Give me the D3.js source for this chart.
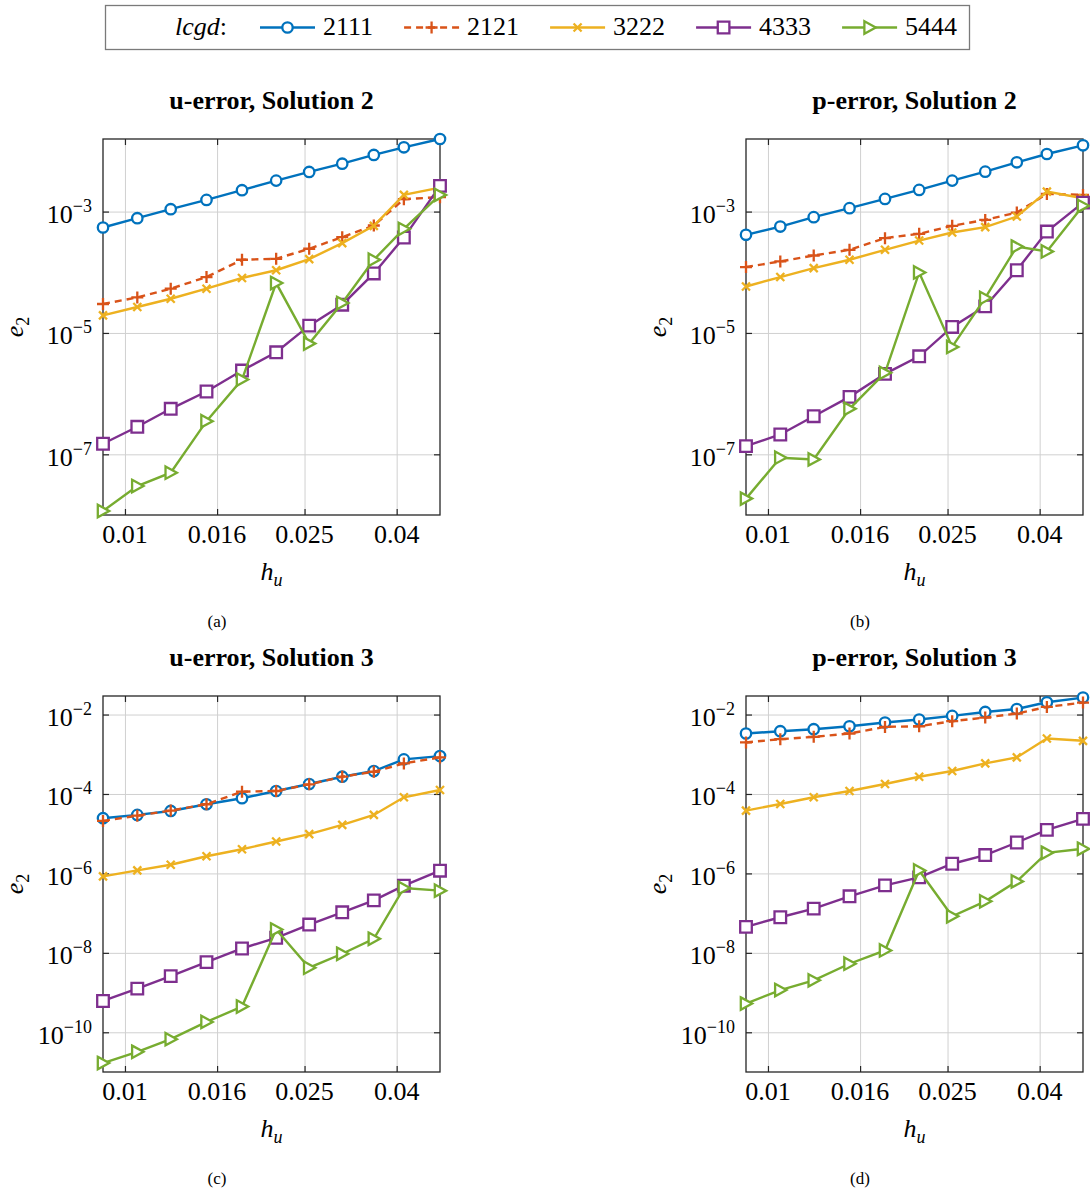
<!DOCTYPE html>
<html>
<head>
<meta charset="utf-8">
<script src="https://cdn.jsdelivr.net/npm/d3@7"></script>
<style>
  body { margin: 0; background: #fff; }
  text { font-family: "Liberation Serif", "DejaVu Serif", serif; }
</style>
</head>
<body>
<svg id="fig" width="1090" height="1191" font-family="Liberation Serif, DejaVu Serif, serif"></svg>
<script>
// mesh sizes (same for every panel)
const hu = [0.00894, 0.01065, 0.01263, 0.01516, 0.01817, 0.02163, 0.0256, 0.0303, 0.0356, 0.0415, 0.0499];
const lcgd = ['2111', '2121', '3222', '4333', '5444'];
const xTicks = [0.01, 0.016, 0.025, 0.04];

// e2 values, one row per lcgd entry
const uErrSol2 = [
  [5.46e-4, 7.78e-4, 1.094e-3, 1.556e-3, 2.249e-3, 3.236e-3, 4.50e-3, 6.15e-3, 8.57e-3, 1.146e-2, 1.57e-2],
  [3.00e-5, 3.85e-5, 5.36e-5, 8.34e-5, 1.607e-4, 1.667e-4, 2.44e-4, 3.79e-4, 5.89e-4, 1.60e-3, 1.73e-3],
  [1.945e-5, 2.68e-5, 3.66e-5, 5.36e-5, 8.04e-5, 1.079e-4, 1.648e-4, 3.02e-4, 5.82e-4, 1.884e-3, 2.48e-3],
  [1.493e-7, 2.84e-7, 5.62e-7, 1.084e-6, 2.40e-6, 4.80e-6, 1.318e-5, 2.92e-5, 9.55e-5, 3.73e-4, 2.65e-3],
  [1.164e-8, 3.00e-8, 4.98e-8, 3.52e-7, 1.706e-6, 6.64e-5, 6.67e-6, 3.11e-5, 1.607e-4, 5.19e-4, 1.884e-3]
];
const pErrSol2 = [
  [4.14e-4, 5.66e-4, 8.09e-4, 1.138e-3, 1.618e-3, 2.275e-3, 3.236e-3, 4.55e-3, 6.49e-3, 8.89e-3, 1.236e-2],
  [1.219e-4, 1.507e-4, 1.888e-4, 2.344e-4, 3.65e-4, 4.30e-4, 5.82e-4, 7.29e-4, 9.64e-4, 1.954e-3, 1.884e-3],
  [5.83e-5, 8.34e-5, 1.172e-4, 1.607e-4, 2.344e-4, 3.33e-4, 4.52e-4, 5.53e-4, 8.28e-4, 2.133e-3, 1.66e-3],
  [1.365e-7, 2.12e-7, 4.25e-7, 8.85e-7, 2.12e-6, 4.12e-6, 1.256e-5, 2.74e-5, 1.079e-4, 4.69e-4, 1.406e-3],
  [1.862e-8, 8.79e-8, 8.24e-8, 5.62e-7, 2.20e-6, 9.93e-5, 5.89e-6, 3.77e-5, 2.65e-4, 2.20e-4, 1.242e-3]
];
const uErrSol3 = [
  [2.455e-5, 2.97e-5, 3.74e-5, 5.52e-5, 7.80e-5, 1.189e-4, 1.782e-4, 2.72e-4, 3.78e-4, 7.43e-4, 8.99e-4],
  [2.10e-5, 2.85e-5, 3.81e-5, 5.52e-5, 1.143e-4, 1.189e-4, 1.75e-4, 2.72e-4, 3.63e-4, 5.89e-4, 8.34e-4],
  [8.41e-7, 1.189e-6, 1.652e-6, 2.70e-6, 4.05e-6, 6.35e-6, 9.75e-6, 1.667e-5, 2.97e-5, 8.26e-5, 1.259e-4],
  [6.14e-10, 1.256e-9, 2.60e-9, 5.85e-9, 1.288e-8, 2.39e-8, 5.16e-8, 1.05e-7, 2.10e-7, 4.91e-7, 1.17e-6],
  [1.679e-11, 3.22e-11, 6.71e-11, 1.824e-10, 4.45e-10, 3.86e-8, 4.23e-9, 9.48e-9, 2.26e-8, 4.31e-7, 3.68e-7]
];
const pErrSol3 = [
  [3.33e-3, 3.81e-3, 4.28e-3, 5.08e-3, 6.30e-3, 7.50e-3, 9.23e-3, 1.161e-2, 1.38e-2, 2.04e-2, 2.67e-2],
  [1.982e-3, 2.40e-3, 2.74e-3, 3.33e-3, 4.89e-3, 5.08e-3, 6.79e-3, 8.41e-3, 1.059e-2, 1.552e-2, 2.00e-2],
  [3.81e-5, 5.61e-5, 8.26e-5, 1.189e-4, 1.782e-4, 2.72e-4, 3.78e-4, 5.89e-4, 8.34e-4, 2.50e-3, 2.18e-3],
  [4.52e-8, 7.87e-8, 1.30e-7, 2.65e-7, 5.00e-7, 7.93e-7, 1.75e-6, 2.90e-6, 6.00e-6, 1.25e-5, 2.36e-5],
  [5.28e-10, 1.159e-9, 2.03e-9, 5.32e-9, 1.148e-8, 1.189e-6, 8.34e-8, 1.98e-7, 6.30e-7, 3.30e-6, 4.17e-6]
];

// styles
const colors = ['#0072BD', '#D95319', '#EDB120', '#7E2F8E', '#77AC30'];
const markers = ['circle', 'plus', 'times', 'square', 'triRight'];
const dashes = [null, '7,5', null, null, null];

const W = 337, H = 376;
const panels = [
  { title: 'u-error, Solution 2', cap: '(a)', data: uErrSol2, x0: 103, y0: 139, capX: 217, yDom: [1e-8, 0.0157], yTicks: [1e-3, 1e-5, 1e-7] },
  { title: 'p-error, Solution 2', cap: '(b)', data: pErrSol2, x0: 746, y0: 139, capX: 860, yDom: [1e-8, 0.0157], yTicks: [1e-3, 1e-5, 1e-7] },
  { title: 'u-error, Solution 3', cap: '(c)', data: uErrSol3, x0: 103, y0: 696, capX: 217, yDom: [1e-11, 0.0293], yTicks: [1e-2, 1e-4, 1e-6, 1e-8, 1e-10] },
  { title: 'p-error, Solution 3', cap: '(d)', data: pErrSol3, x0: 746, y0: 696, capX: 860, yDom: [1e-11, 0.0293], yTicks: [1e-2, 1e-4, 1e-6, 1e-8, 1e-10] }
];

function markerPath(type) {
  switch (type) {
    case 'circle': return 'M5.2,0A5.2,5.2 0 1,1 -5.2,0A5.2,5.2 0 1,1 5.2,0Z';
    case 'plus': return 'M-6,0H6M0,-6V6';
    case 'times': return 'M-4,-4L4,4M-4,4L4,-4';
    case 'square': return 'M-5.8,-5.8H5.8V5.8H-5.8Z';
    case 'triRight': return 'M-5.2,-6.2L6.2,0L-5.2,6.2Z';
  }
}

const svg = d3.select('#fig');
const frameCol = '#262626';
const fontSize = 26;
const serif = 'Liberation Serif, DejaVu Serif, serif';

panels.forEach((p) => {
  const x = d3.scaleLog().domain(d3.extent(hu)).range([0, W]);
  const y = d3.scaleLog().domain(p.yDom).range([H, 0]);
  const g = svg.append('g').attr('transform', `translate(${p.x0},${p.y0})`);

  // grid
  g.append('g')
    .attr('transform', `translate(0,${H})`)
    .call(d3.axisBottom(x).tickValues(xTicks).tickSize(-H).tickFormat(''))
    .call((a) => a.select('.domain').remove())
    .selectAll('line').attr('stroke', '#d0d0d0').attr('stroke-width', 1);
  g.append('g')
    .call(d3.axisLeft(y).tickValues(p.yTicks).tickSize(-W).tickFormat(''))
    .call((a) => a.select('.domain').remove())
    .selectAll('line').attr('stroke', '#d0d0d0').attr('stroke-width', 1);

  // inward ticks on all four sides
  const tk = 6;
  const tickAxes = [
    [d3.axisBottom(x).tickValues(xTicks), `translate(0,${H})`],
    [d3.axisTop(x).tickValues(xTicks), 'translate(0,0)'],
    [d3.axisLeft(y).tickValues(p.yTicks), 'translate(0,0)'],
    [d3.axisRight(y).tickValues(p.yTicks), `translate(${W},0)`]
  ];
  tickAxes.forEach(([ax, tr]) => {
    g.append('g').attr('transform', tr)
      .call(ax.tickSizeInner(-tk).tickSizeOuter(0).tickFormat(''))
      .call((a) => a.select('.domain').remove())
      .selectAll('line').attr('stroke', frameCol).attr('stroke-width', 1.2);
  });

  g.append('rect')
    .attr('width', W).attr('height', H)
    .attr('fill', 'none').attr('stroke', frameCol).attr('stroke-width', 1.3);

  // x tick labels
  g.selectAll('.xl').data(xTicks).join('text')
    .attr('x', (d) => x(d)).attr('y', H + 28)
    .attr('text-anchor', 'middle').attr('font-size', fontSize).attr('font-family', serif)
    .text((d) => String(d));

  // y tick labels 10^k
  const yl = g.selectAll('.yl').data(p.yTicks).join('text')
    .attr('x', -11).attr('y', (d) => y(d) + 11.5)
    .attr('text-anchor', 'end').attr('font-size', fontSize).attr('font-family', serif);
  yl.append('tspan').text('10');
  yl.append('tspan').attr('font-size', 18).attr('dy', -11)
    .text((d) => '\u2212' + Math.round(-Math.log10(d)));

  // axis labels
  const xl = g.append('text').attr('x', W / 2).attr('y', H + 65)
    .attr('text-anchor', 'middle').attr('font-size', fontSize).attr('font-style', 'italic').attr('font-family', serif);
  xl.append('tspan').text('h');
  xl.append('tspan').attr('font-size', 18).attr('dy', 6).text('u');

  const ylab = g.append('text')
    .attr('transform', `translate(-80,${H / 2}) rotate(-90)`)
    .attr('text-anchor', 'middle').attr('font-size', fontSize).attr('font-style', 'italic').attr('font-family', serif);
  ylab.append('tspan').text('e');
  ylab.append('tspan').attr('font-size', 18).attr('font-style', 'normal').attr('dy', 6).text('2');

  // title
  g.append('text').attr('x', W / 2).attr('y', -30)
    .attr('text-anchor', 'middle').attr('font-size', fontSize).attr('font-weight', 'bold').attr('font-family', serif)
    .text(p.title);

  // caption
  svg.append('text').attr('x', p.capX).attr('y', p.y0 + H + 112)
    .attr('text-anchor', 'middle').attr('font-size', 17).attr('font-family', serif)
    .text(p.cap);

  // series
  const line = d3.line().x((d, i) => x(hu[i])).y((d) => y(d));
  p.data.forEach((vals, s) => {
    g.append('path').datum(vals)
      .attr('d', line)
      .attr('fill', 'none').attr('stroke', colors[s]).attr('stroke-width', 2.4)
      .attr('stroke-dasharray', dashes[s]);
    g.selectAll(null).data(vals).join('path')
      .attr('transform', (d, i) => `translate(${x(hu[i])},${y(d)})`)
      .attr('d', markerPath(markers[s]))
      .attr('fill', markers[s] === 'plus' || markers[s] === 'times' ? 'none' : '#fff')
      .attr('stroke', colors[s]).attr('stroke-width', 2.3);
  });
});

// legend
const lg = svg.append('g');
lg.append('rect').attr('x', 105.5).attr('y', 5.5).attr('width', 864).attr('height', 44)
  .attr('fill', '#fff').attr('stroke', '#7a7a7a').attr('stroke-width', 1.3);
const lt = lg.append('text').attr('x', 175).attr('y', 35).attr('font-size', fontSize).attr('font-family', serif);
lt.append('tspan').attr('font-style', 'italic').text('lcgd');
lt.append('tspan').text(':');

let lx = 260;
lcgd.forEach((name, s) => {
  lg.append('line').attr('x1', lx).attr('x2', lx + 55).attr('y1', 27.5).attr('y2', 27.5)
    .attr('stroke', colors[s]).attr('stroke-width', 2.4).attr('stroke-dasharray', dashes[s]);
  lg.append('path').attr('transform', `translate(${lx + 27.5},27.5)`)
    .attr('d', markerPath(markers[s]))
    .attr('fill', markers[s] === 'plus' || markers[s] === 'times' ? 'none' : '#fff')
    .attr('stroke', colors[s]).attr('stroke-width', 2.3);
  const t = lg.append('text').attr('x', lx + 63).attr('y', 35).attr('font-size', fontSize).attr('font-family', serif).text(name);
  lx += 63 + t.node().getComputedTextLength() + 31;
});
</script>
</body>
</html>
